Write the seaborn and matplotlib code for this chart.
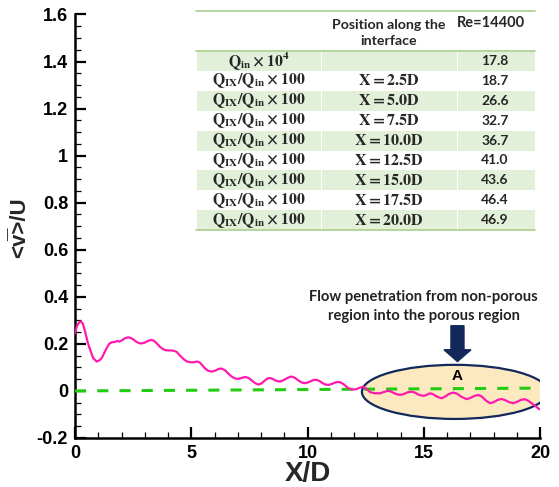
import matplotlib
matplotlib.use("Agg")
import matplotlib.pyplot as plt
import seaborn as sns
import pandas as pd
from matplotlib.patches import Ellipse, FancyArrow, Rectangle
from matplotlib.ticker import MultipleLocator, FuncFormatter

# ---------------- data ----------------
x_d = [0.0, 0.08, 0.18, 0.26, 0.34, 0.43, 0.55, 0.65, 0.78, 0.93, 1.05, 1.15, 1.25,
       1.36, 1.47, 1.58, 1.70, 1.79, 1.90, 2.00, 2.15, 2.29, 2.40, 2.51, 2.65, 2.80,
       2.92, 3.01, 3.15, 3.30, 3.40, 3.51, 3.65, 3.78, 3.90, 4.05, 4.16, 4.28, 4.37,
       4.50, 4.66, 4.80, 4.95, 5.10, 5.25, 5.35, 5.47, 5.59, 5.72, 5.88, 6.05, 6.18,
       6.31, 6.45, 6.60, 6.74, 6.88, 7.03, 7.18, 7.33, 7.45, 7.60, 7.75, 7.89, 8.02,
       8.15, 8.28, 8.39, 8.52, 8.65, 8.82, 8.95, 9.10, 9.22, 9.32, 9.45, 9.60, 9.75,
       9.89, 10.02, 10.15, 10.28, 10.40, 10.52, 10.65, 10.78, 10.90, 11.03, 11.15,
       11.28, 11.40, 11.52, 11.65, 11.75, 11.83, 11.97, 12.11, 12.25, 12.40, 12.52,
       12.69, 12.90, 13.12, 13.30, 13.48, 13.62, 13.80, 13.98, 14.12, 14.30, 14.48,
       14.62, 14.80, 15.00, 15.14, 15.27, 15.40, 15.58, 15.77, 15.92, 16.10, 16.27,
       16.42, 16.62, 16.85, 17.00, 17.18, 17.35, 17.50, 17.68, 17.85, 18.00, 18.18,
       18.35, 18.50, 18.68, 18.85, 19.00, 19.18, 19.35, 19.50, 19.64, 19.80, 19.97]
v_u = [0.245, 0.275, 0.292, 0.295, 0.285, 0.255, 0.205, 0.175, 0.140, 0.125, 0.130,
       0.140, 0.160, 0.182, 0.200, 0.207, 0.208, 0.212, 0.210, 0.214, 0.224, 0.228,
       0.225, 0.219, 0.208, 0.202, 0.203, 0.206, 0.213, 0.217, 0.213, 0.203, 0.188,
       0.178, 0.173, 0.172, 0.172, 0.170, 0.166, 0.152, 0.136, 0.126, 0.122, 0.122,
       0.125, 0.122, 0.110, 0.096, 0.086, 0.082, 0.087, 0.094, 0.095, 0.088, 0.073,
       0.061, 0.053, 0.051, 0.056, 0.059, 0.056, 0.045, 0.033, 0.027, 0.032, 0.043,
       0.053, 0.055, 0.050, 0.043, 0.040, 0.045, 0.053, 0.059, 0.061, 0.056, 0.045,
       0.036, 0.033, 0.036, 0.042, 0.047, 0.047, 0.042, 0.033, 0.027, 0.026, 0.029,
       0.034, 0.038, 0.037, 0.031, 0.020, 0.012, 0.009, 0.006, 0.008, 0.014, 0.018,
       0.010, -0.005, -0.010, -0.010, -0.004, 0.001, -0.004, -0.013, -0.017, -0.014,
       -0.006, -0.003, -0.007, -0.017, -0.021, -0.016, -0.010, -0.014, -0.025, -0.031,
       -0.024, -0.012, -0.007, -0.011, -0.025, -0.035, -0.030, -0.021, -0.017, -0.024,
       -0.041, -0.052, -0.048, -0.038, -0.034, -0.039, -0.048, -0.052, -0.047, -0.038,
       -0.035, -0.042, -0.052, -0.064, -0.078]
ref_x = [0.0, 20.0]
ref_y = [0.0, 0.012]

row_labels = [r"$\mathbf{Q_{in}\times 10^4}$"] + [r"$\mathbf{Q_{IX}/Q_{in}\times 100}$"] * 8
positions = ["", "X = 2.5D", "X = 5.0D", "X = 7.5D", "X = 10.0D", "X = 12.5D",
             "X = 15.0D", "X = 17.5D", "X = 20.0D"]
re_values = ["17.8", "18.7", "26.6", "32.7", "36.7", "41.0", "43.6", "46.4", "46.9"]
header_pos = "Position along the\ninterface"
header_re = "Re=14400"

annot_lines = ["Flow penetration from non-porous", "region into the porous region"]

# ---------------- style ----------------
sns.set_theme(style="ticks")
plt.rcParams["font.family"] = ["Liberation Sans", "DejaVu Sans"]
plt.rcParams["font.weight"] = "bold"
plt.rcParams["mathtext.fontset"] = "stix"
plt.rcParams["lines.scale_dashes"] = False

W, H = 559, 487
fig = plt.figure(figsize=(W / 100, H / 100), dpi=100)
fig.patch.set_facecolor("white")
ax = fig.add_axes([75 / W, 1 - 438 / H, 465 / W, (438 - 14.5) / H])
ax.set_facecolor("white")

df = pd.DataFrame({"x": x_d, "v": v_u})
ref = pd.DataFrame({"x": ref_x, "v": ref_y})

# ellipse region A
ax.add_patch(Ellipse((16.34, -0.004), 8.0, 0.23, facecolor="#FCE9BF",
                     edgecolor="#12285A", lw=1.6, zorder=1))

sns.lineplot(data=ref, x="x", y="v", ax=ax, color="#22CC11", lw=2.2,
             linestyle=(0, (8, 8)), zorder=3)
sns.lineplot(data=df, x="x", y="v", ax=ax, color="#FF1AAE", lw=1.6, sort=False,
             zorder=4)

ax.set_xlim(0, 20)
ax.set_ylim(-0.2, 1.6)
ax.xaxis.set_major_locator(MultipleLocator(5))
ax.xaxis.set_minor_locator(MultipleLocator(1))
ax.yaxis.set_major_locator(MultipleLocator(0.2))
ax.yaxis.set_minor_locator(MultipleLocator(0.05))
ax.yaxis.set_major_formatter(FuncFormatter(lambda v, p: f"{v:g}".replace("−", "-")))
ax.xaxis.set_major_formatter(FuncFormatter(lambda v, p: f"{v:g}"))
for s in ["top", "right"]:
    ax.spines[s].set_visible(False)
for s in ["left", "bottom"]:
    ax.spines[s].set_linewidth(1.8)
    ax.spines[s].set_color("black")
ax.tick_params(which="major", direction="in", length=8, width=1.6, labelsize=13,
               pad=5, colors="black")
ax.tick_params(which="minor", direction="in", length=4.5, width=0.9, colors="black")
ax.set_xlabel("")
ax.set_ylabel("")

# arrow
ax.add_patch(FancyArrow(16.45, 0.277, 0, -0.152, width=0.56, head_width=1.16,
                        head_length=0.05, length_includes_head=True,
                        color="#12285A", zorder=5))
ax.text(16.45, 0.064, "A", ha="center", va="center", fontsize=11,
        fontweight="bold", color="black", zorder=6)
ax.text(15.0, 0.40, annot_lines[0], ha="center", va="center", fontsize=10.6,
        family="Lato", fontweight="bold", color="#222222")
ax.text(15.0, 0.32, annot_lines[1], ha="center", va="center", fontsize=10.6,
        family="Lato", fontweight="bold", color="#222222")

# overlay in pixel coordinates
ov = fig.add_axes([0, 0, 1, 1])
ov.set_xlim(0, W)
ov.set_ylim(H, 0)
ov.axis("off")
ov.patch.set_alpha(0)
ov.set_zorder(5)

ov.text(20, 228, "<v\u0305>/U", rotation=90, ha="center", va="center",
        fontsize=16, fontweight="bold")
ov.text(308, 474, "X/D", ha="center", va="center", fontsize=20, fontweight="bold")

# table
col_edges = [196, 321, 457, 535]
row_top0, row_h = 51, 19.9
green_fill = "#E2EFD9"
green_line = "#A8D08D"
for i in range(len(re_values)):
    top = row_top0 + i * row_h
    if i % 2 == 0:
        for c in range(3):
            ov.add_patch(Rectangle((col_edges[c] + 0.5, top), col_edges[c + 1] - col_edges[c] - 1,
                                   row_h, facecolor=green_fill, edgecolor="none"))
    yc = top + row_h / 2
    ov.text((col_edges[0] + col_edges[1]) / 2, yc, row_labels[i], ha="center",
            va="center", fontsize=11.3)
    if positions[i]:
        ov.text((col_edges[1] + col_edges[2]) / 2, yc,
                r"$\mathbf{" + positions[i].replace(" ", "") + "}$",
                ha="center", va="center", fontsize=11.5)
    ov.text((col_edges[2] + col_edges[3]) / 2 - 1, yc, re_values[i], ha="center",
            va="center", fontsize=10, family="Lato", fontweight="bold")
for yl in [11, 51, row_top0 + 9 * row_h]:
    ov.plot([col_edges[0], col_edges[3]], [yl, yl], color=green_line, lw=1.2)
ov.text(389, 33, header_pos, ha="center", va="center", fontsize=10.2,
        family="Lato", fontweight="bold", linespacing=1.45)
ov.text(491, 23, header_re, ha="center", va="center", fontsize=10.5,
        family="Lato", fontweight="bold")

fig.savefig("out.png", dpi=100)
